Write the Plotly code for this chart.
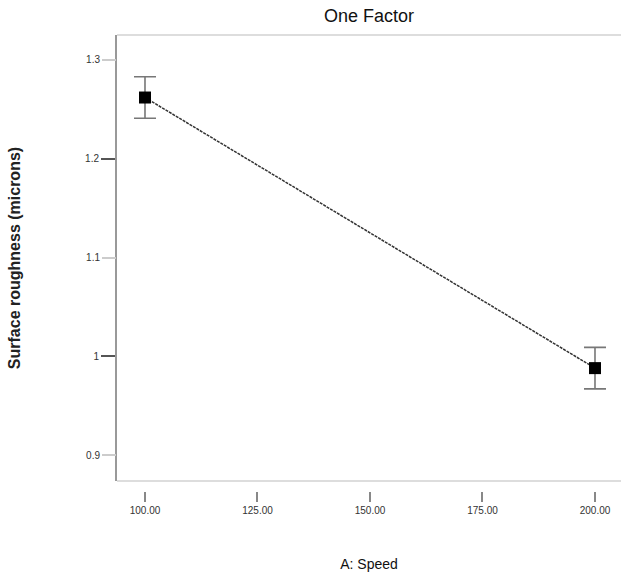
import plotly.graph_objects as go

# Data
speed = [100, 200]
roughness = [1.262, 0.988]
err = [0.021, 0.021]

x_tickvals = [100, 125, 150, 175, 200]
x_ticktext = ["100.00", "125.00", "150.00", "175.00", "200.00"]
y_major_vals = [1.0, 1.2]
y_major_text = ["1", "1.2"]
y_minor_vals = [0.9, 1.1, 1.3]
y_minor_text = ["0.9", "1.1", "1.3"]

FONT = "Liberation Sans Narrow, Arial Narrow, Liberation Sans, Arial, sans-serif"
W, H = 621, 578
L, R, T, B = 117, 0, 35, 87
plot_h = H - T - B
ydom0 = 10 / plot_h
yrange = [0.8737, 1.3253]
xrange_ = [93.78, 205.78]

fig = go.Figure()
# invisible companion trace so the light-tick overlay axis is drawn
fig.add_trace(go.Scatter(
    x=speed, y=roughness, yaxis="y2", mode="markers",
    marker=dict(opacity=0), showlegend=False, hoverinfo="skip",
))
fig.add_trace(go.Scatter(
    x=speed, y=roughness, mode="lines+markers",
    line=dict(color="#333333", width=1.5, dash="3px,1px"),
    marker=dict(symbol="square", size=12, color="black"),
    error_y=dict(type="data", array=err, visible=True, color="#777777",
                 thickness=1.6, width=11),
    showlegend=False, hoverinfo="skip",
))

fig.update_layout(
    width=W, height=H,
    margin=dict(l=L, r=R, t=T, b=B),
    paper_bgcolor="white", plot_bgcolor="white",
    title=dict(text="One Factor", x=0.5, xref="paper", y=1 - 16 / H,
               yref="container", xanchor="center", yanchor="middle",
               font=dict(family=FONT, size=18, color="#111111")),
    xaxis=dict(range=xrange_, tickvals=x_tickvals, ticktext=x_ticktext,
               ticks="outside", ticklen=10, tickwidth=2, tickcolor="#888888",
               showline=False, showgrid=False, zeroline=False,
               anchor="free", position=0,
               tickfont=dict(family=FONT, size=10, color="#333333"),
               title=dict(text="A: Speed", standoff=44,
                          font=dict(family=FONT, size=14, color="#111111"))),
    yaxis=dict(range=yrange, domain=[ydom0, 1], tickvals=y_major_vals,
               ticktext=y_major_text, ticks="outside", ticklen=14, tickwidth=2,
               tickcolor="#555555", showline=True, linecolor="#999999",
               linewidth=2, showgrid=False, zeroline=False,
               tickfont=dict(family=FONT, size=10, color="#333333"),
               title=dict(text="<b>Surface roughness (microns)</b>", standoff=60,
                          font=dict(family="Liberation Sans, Arial, sans-serif",
                                    size=16, color="#222222"))),
    yaxis2=dict(range=yrange, domain=[ydom0, 1], overlaying="y", side="left",
                anchor="x", tickvals=y_minor_vals, ticktext=y_minor_text,
                ticks="outside", ticklen=14, tickwidth=2, tickcolor="#cccccc",
                showline=False, showgrid=False, zeroline=False,
                tickfont=dict(family=FONT, size=10, color="#333333")),
    shapes=[
        dict(type="line", xref="paper", yref="paper", x0=0, x1=1,
             y0=ydom0, y1=ydom0, line=dict(color="#dddddd", width=2)),
        dict(type="line", xref="paper", yref="paper", x0=0, x1=1,
             y0=1, y1=1, line=dict(color="#dddddd", width=2)),
    ],
)

fig.write_html("out.html")
